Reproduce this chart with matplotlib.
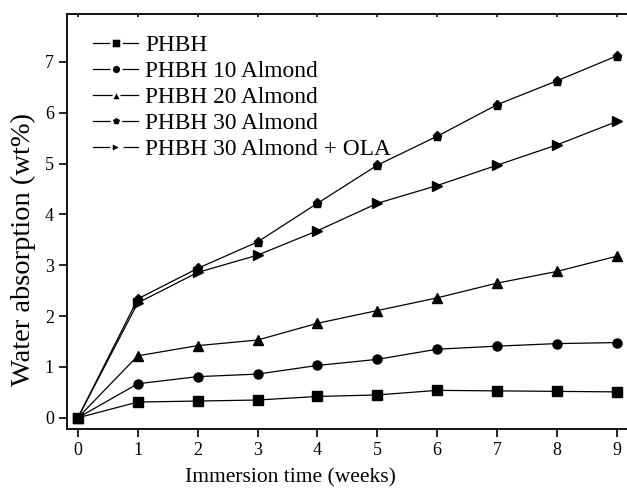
import matplotlib
matplotlib.use('Agg')
import matplotlib.pyplot as plt
from matplotlib.lines import Line2D

plt.rcParams['font.family'] = ['Liberation Serif', 'DejaVu Serif']

#%% data
weeks = [0, 1, 2, 3, 4, 5, 6, 7, 8, 9]

phbh        = [0, 0.31, 0.33, 0.35, 0.42, 0.45, 0.54, 0.53, 0.52, 0.51]
phbh_10     = [0, 0.67, 0.81, 0.86, 1.03, 1.15, 1.35, 1.41, 1.46, 1.48]
phbh_20     = [0, 1.22, 1.42, 1.53, 1.86, 2.11, 2.36, 2.65, 2.88, 3.18]
phbh_30     = [0, 2.34, 2.94, 3.46, 4.22, 4.97, 5.54, 6.16, 6.63, 7.12]
phbh_30_ola = [0, 2.26, 2.86, 3.20, 3.68, 4.22, 4.57, 4.97, 5.37, 5.83]

labels  = ['PHBH', 'PHBH 10 Almond', 'PHBH 20 Almond', 'PHBH 30 Almond',
           'PHBH 30 Almond + OLA']
markers = ['s', 'o', '^', 'p', '>']

#%% plot
fig = plt.figure(figsize=(6.27, 4.9), dpi=100)
ax = fig.add_axes([0.107, 0.1245, 0.896, 0.8465])

series = [phbh, phbh_10, phbh_20, phbh_30, phbh_30_ola]
for yy, lab, mk in zip(series, labels, markers):
    ax.plot(weeks, yy, color='k', lw=0.9, marker=mk, ms=6.5)

ax.set_xlim(-0.18, 9.2)
ax.set_ylim(-0.22, 7.94)
ax.set_xticks(range(10))
ax.set_yticks(range(8))

ax.tick_params(axis='both', labelsize=13, width=1.2, length=6, direction='out')
ax.tick_params(axis='x', top=True)
for sp in ['left', 'bottom', 'top']:
    ax.spines[sp].set_linewidth(1.3)
ax.spines['right'].set_visible(False)
# small inward ticks on top spine
for tk in ax.xaxis.get_major_ticks():
    tk.tick2line.set_marker(3)
    tk.tick2line.set_markersize(2.5)

# axis labels placed where they sit in the original
fig.text(290/627, 1 - 478/490, 'Immersion time (weeks)', fontsize=15.5,
         ha='center', va='center')
fig.text(23/627, 1 - 250/490, 'Water absorption (wt%)', fontsize=20.5,
         ha='center', va='center', rotation=90)

# legend: line - marker - line with gaps around marker
handles = [Line2D([], [], color='k', lw=0.9, marker=mk, ms=7.0, mfc='k',
                  mec='white', mew=1.8) for mk in markers]
leg = ax.legend(handles, labels, loc='upper left', frameon=False, fontsize=16.8,
                handlelength=1.95, handletextpad=0.3, labelspacing=0.2,
                borderpad=0, borderaxespad=0, bbox_to_anchor=(0.046, 0.95))

plt.savefig('out.png', dpi=100)
